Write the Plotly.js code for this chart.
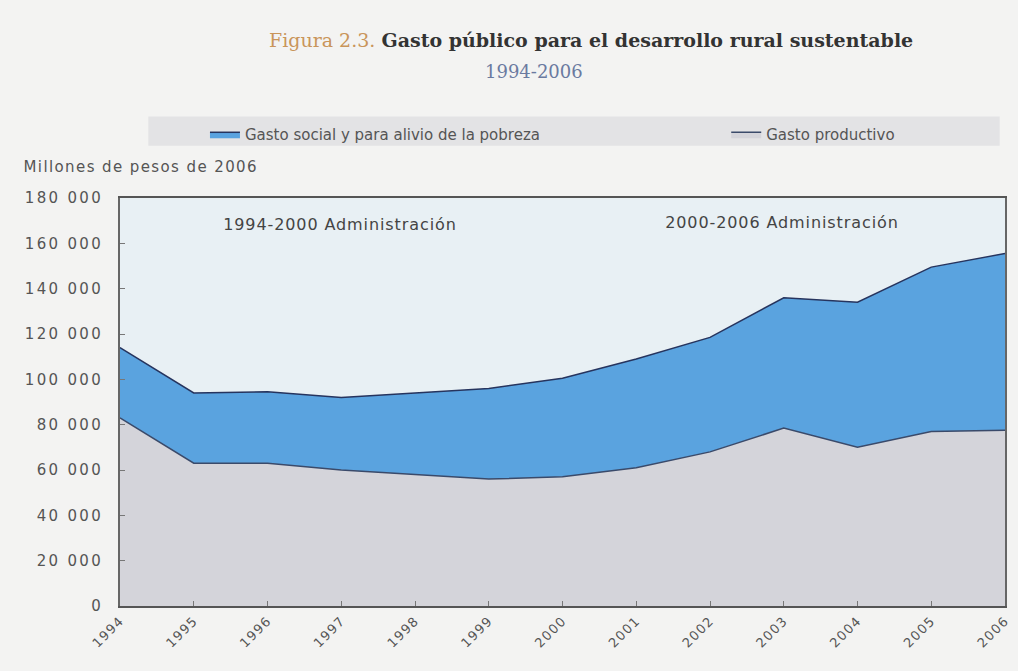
<!DOCTYPE html>
<html>
<head>
<meta charset="utf-8">
<script src="https://cdn.plot.ly/plotly-3.0.1.min.js"></script>
<style>
html,body{margin:0;padding:0;background:#f3f3f2;}
#chart{width:1018px;height:671px;}
#chart .ytick text{letter-spacing:2.3px;}
#chart .xtick text{letter-spacing:1.2px;}
#chart .annotation-text.spaced{letter-spacing:0.9px;}
#chart .annotation-text.spaced2{letter-spacing:1.4px;}
</style>
</head>
<body>
<div id="chart"></div>
<script>
// Data (millones de pesos de 2006)
var years = ['1994','1995','1996','1997','1998','1999','2000','2001','2002','2003','2004','2005','2006'];
var gastoProductivo = [83000, 63000, 63000, 60000, 58000, 56000, 57000, 61000, 68000, 78500, 70000, 77000, 77500];
var gastoSocial = [31000, 31000, 31500, 32000, 36000, 40000, 43500, 48000, 50500, 57500, 64000, 72500, 78000];
var yTicks = [0, 20000, 40000, 60000, 80000, 100000, 120000, 140000, 160000, 180000];
var seriesNames = ['Gasto social y para alivio de la pobreza', 'Gasto productivo'];
var periodLabels = ['1994-2000 Administración', '2000-2006 Administración'];
var titleParts = ['Figura 2.3.', 'Gasto público para el desarrollo rural sustentable', '1994-2006'];
var yUnitLabel = 'Millones de pesos de 2006';
var divisionYear = '2000';

var traces = [
  {
    x: years, y: gastoProductivo, name: seriesNames[1],
    type: 'scatter', mode: 'lines', stackgroup: 'one',
    line: {color: '#3a4a6a', width: 1.5},
    fillcolor: '#d4d4da', legend: 'legend2'
  },
  {
    x: years, y: gastoSocial, name: seriesNames[0],
    type: 'scatter', mode: 'lines', stackgroup: 'one',
    line: {color: '#26345e', width: 1.5},
    fillcolor: '#5aa3df', legend: 'legend'
  }
];

var legendCommon = {
  orientation: 'h', xanchor: 'left', y: 1.196, yanchor: 'top',
  bgcolor: 'rgba(0,0,0,0)', font: {family: 'DejaVu Sans, sans-serif', size: 15, color: '#555'}
};

var layout = {
  width: 1018, height: 671,
  paper_bgcolor: '#f3f3f2',
  plot_bgcolor: '#e8f0f4',
  separators: '. ',
  margin: {l: 120, r: 13, t: 198, b: 65},
  font: {family: 'DejaVu Sans, sans-serif', color: '#555'},
  showlegend: true,
  legend: Object.assign({}, legendCommon, {x: 0.096}),
  legend2: Object.assign({}, legendCommon, {x: 0.685}),
  xaxis: {
    type: 'category', range: [0, 12], tickangle: -45,
    showgrid: false, zeroline: false,
    showline: true, linecolor: '#555', linewidth: 2, mirror: true,
    ticks: 'inside', ticklen: 5, tickcolor: '#777',
    tickfont: {size: 13, color: '#555'}
  },
  yaxis: {
    range: [0, 180000], tickvals: yTicks, tickformat: ',d',
    showgrid: false, zeroline: false,
    showline: true, linecolor: '#666', linewidth: 2, mirror: true,
    ticks: 'inside', ticklen: 5, tickcolor: '#777',
    tickfont: {size: 15, color: '#555'}, ticklabelstandoff: 12
  },
  shapes: [
    {type: 'rect', xref: 'paper', yref: 'paper', x0: 0.032, x1: 0.994, y0: 1.128, y1: 1.2,
     fillcolor: '#e3e3e5', line: {width: 0}, layer: 'below'},
    {type: 'line', xref: 'x', yref: 'paper', x0: divisionYear, x1: divisionYear, y0: 0, y1: 1,
     line: {color: '#6a6a6a', width: 1.5}}
  ],
  annotations: [
    {text: '<span style="color:#c9955a">' + titleParts[0] + '</span> <b>' + titleParts[1] + '</b>',
     xref: 'paper', yref: 'paper', x: 0.532, y: 1.387, xanchor: 'center', yanchor: 'middle',
     showarrow: false, font: {family: 'DejaVu Serif, serif', size: 19, color: '#333'}},
    {text: titleParts[2],
     xref: 'paper', yref: 'paper', x: 0.468, y: 1.309, xanchor: 'center', yanchor: 'middle',
     showarrow: false, font: {family: 'DejaVu Serif, serif', size: 18, color: '#6a7aa0'}},
    {text: yUnitLabel, xref: 'paper', yref: 'paper', x: 0.0226, y: 1.075,
     xanchor: 'center', yanchor: 'middle', showarrow: false, font: {size: 15, color: '#555'}},
    {text: periodLabels[0], xref: 'paper', yref: 'paper', x: 0.2486, y: 0.935,
     xanchor: 'center', yanchor: 'middle', showarrow: false, font: {size: 16, color: '#444'}},
    {text: periodLabels[1], xref: 'paper', yref: 'paper', x: 0.748, y: 0.94,
     xanchor: 'center', yanchor: 'middle', showarrow: false, font: {size: 16, color: '#444'}}
  ]
};

Plotly.newPlot('chart', traces, layout, {displayModeBar: false, staticPlot: true}).then(function(gd){
  var anns = gd.querySelectorAll('.annotation-text');
  if (anns[2]) anns[2].classList.add('spaced2');
  for (var i = 3; i < anns.length; i++) anns[i].classList.add('spaced');
});
</script>
</body>
</html>
